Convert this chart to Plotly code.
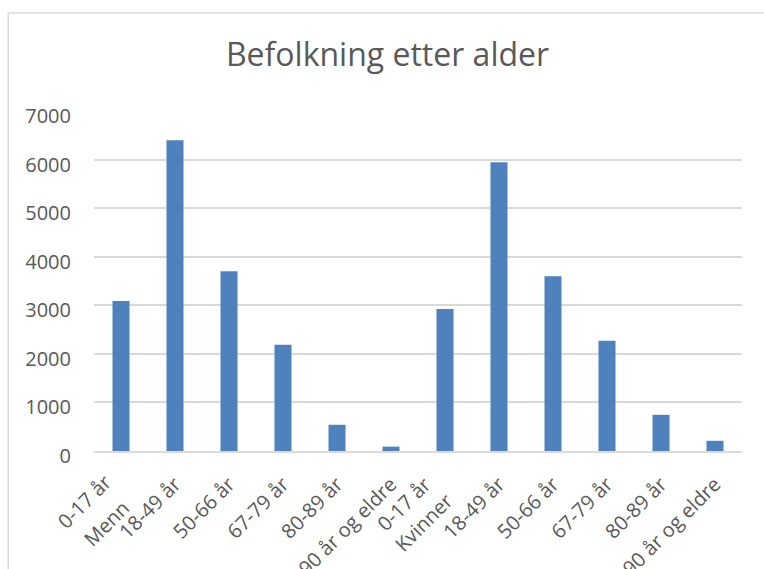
import plotly.graph_objects as go

# ---- data ----
title = "Befolkning etter alder"
groups = ["Menn", "Kvinner"]
age_groups = ["0-17 år", "18-49 år", "50-66 år", "67-79 år", "80-89 år", "90 år og eldre"]
menn_values = [3090, 6400, 3700, 2185, 540, 90]
kvinner_values = [2925, 5945, 3600, 2270, 745, 210]
y_ticks = [0, 1000, 2000, 3000, 4000, 5000, 6000, 7000]

values = menn_values + kvinner_values
n_age = len(age_groups)
x_pos = list(range(len(values)))
# first label of each group is drawn as annotation (Excel offsets it)
tick_text = [("" if i % n_age == 0 else age_groups[i % n_age]) for i in x_pos]

W, H = 764, 569
L, R, T, B = 94, 22, 111, 118
FONT = "Open Sans"
GREY = "#595959"
TICK_SIZE = 20

fig = go.Figure()
fig.add_trace(go.Bar(
    x=x_pos, y=values,
    marker=dict(color="#4f81bd", line=dict(width=0)),
    hoverinfo="y",
))

# group labels (second category level) and the offset first age labels
group_shift = [-14.5, -21.5]
group_y = [-0.2147, -0.2103]
first_shift = [-36.5, -42]
first_y = [-0.150, -0.156]
annotations = []
for i, g in enumerate(groups):
    annotations.append(dict(
        x=x_pos[i * n_age], xref="x",
        y=group_y[i], yref="paper",
        text=g, showarrow=False, textangle=-45,
        xanchor="center", yanchor="middle", xshift=group_shift[i],
        font=dict(family=FONT, size=TICK_SIZE, color=GREY),
    ))
    annotations.append(dict(
        x=x_pos[i * n_age], xref="x",
        y=first_y[i], yref="paper",
        text=age_groups[0], showarrow=False, textangle=-45,
        xanchor="center", yanchor="middle", xshift=first_shift[i],
        font=dict(family=FONT, size=TICK_SIZE, color=GREY),
    ))

pw = W - L - R
ph = H - T - B
fig.add_shape(type="rect", xref="paper", yref="paper",
              x0=(8.2 - L) / pw, x1=(W + 20 - L) / pw,
              y0=(H - (H + 20) - B) / ph, y1=(H - 13 - B) / ph,
              line=dict(color="#d9d9d9", width=1.5), layer="below")

fig.update_layout(
    width=W, height=H, autosize=False,
    margin=dict(l=L, r=R, t=T, b=B, pad=0, autoexpand=False),
    paper_bgcolor="white", plot_bgcolor="white",
    bargap=0.685,
    showlegend=False,
    title=dict(text=title, x=(387.5) / W, xref="container", xanchor="center",
               y=1 - 55 / H, yref="container", yanchor="middle",
               font=dict(family=FONT, size=32, color=GREY), automargin=False),
    xaxis=dict(
        tickmode="array", tickvals=x_pos, ticktext=tick_text,
        tickangle=-45, range=[-0.5, len(values) - 0.5],
        showgrid=False, zeroline=False, automargin=False,
        showline=True, linecolor="#d9d9d9", linewidth=1.5,
        ticks="", tickfont=dict(family=FONT, size=TICK_SIZE, color=GREY),
        ticklabelstandoff=12,
    ),
    yaxis=dict(
        range=[0, 7000], tickvals=y_ticks, automargin=False,
        showgrid=True, gridcolor="#d9d9d9", gridwidth=1.5,
        zeroline=False, showline=False, ticks="",
        tickfont=dict(family=FONT, size=TICK_SIZE, color=GREY),
        ticklabelstandoff=22, ticklabelshift=5,
    ),
    annotations=annotations,
    font=dict(family=FONT, color=GREY),
)

fig.write_html("out.html")
